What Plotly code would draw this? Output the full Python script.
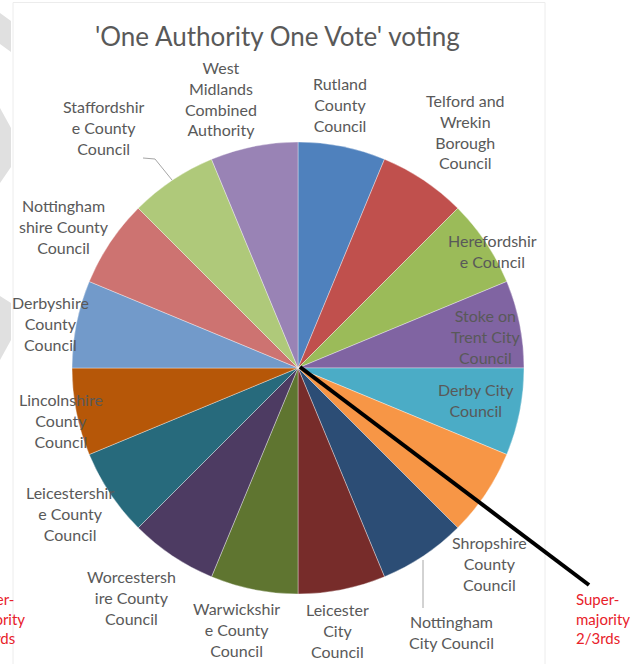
import plotly.graph_objects as go

W, H = 636, 664

councils = [
    "Rutland<br>County<br>Council",
    "Telford and<br>Wrekin<br>Borough<br>Council",
    "Herefordshir<br>e Council",
    "Stoke on<br>Trent City<br>Council",
    "Derby City<br>Council",
    "Shropshire<br>County<br>Council",
    "Nottingham<br>City Council",
    "Leicester<br>City<br>Council",
    "Warwickshir<br>e County<br>Council",
    "Worcestersh<br>ire County<br>Council",
    "Leicestershir<br>e County<br>Council",
    "Lincolnshire<br>County<br>Council",
    "Derbyshire<br>County<br>Council",
    "Nottingham<br>shire County<br>Council",
    "Staffordshir<br>e County<br>Council",
    "West<br>Midlands<br>Combined<br>Authority",
]
votes = [1] * 16
colors = [
    "#4F81BD", "#C0504D", "#9BBB59", "#8064A2", "#4BACC6", "#F79646",
    "#2C4D75", "#772C2A", "#5F7530", "#4D3B62", "#276A7C", "#B65708",
    "#729ACA", "#CD7371", "#AFC97A", "#9983B5",
]
title_text = "'One Authority One Vote' voting"
supermajority_text = "Super-<br>majority<br>2/3rds"

# label centre positions in pixels (layout only)
label_pos = [
    (340, 105), (466, 131), (492, 251), (486, 336), (476, 400), (489, 563),
    (451, 632), (337, 630), (237, 629), (131, 597), (70, 513), (61, 420),
    (50, 323), (64, 226), (104, 128), (221, 99),
]

def px(x):
    return x / W

def py(y):
    return 1 - y / H

# pie centre (298, 368), radius 226
cx, cy, r = 298, 368, 226

fig = go.Figure(go.Pie(
    labels=[c.replace("<br>", " ") for c in councils],
    values=votes,
    marker=dict(colors=colors, line=dict(color="rgba(255,255,255,0.6)", width=0.6)),
    sort=False,
    direction="clockwise",
    rotation=0,
    textinfo="none",
    hoverinfo="label",
    showlegend=False,
    domain=dict(x=[px(cx - r), px(cx + r)], y=[py(cy + r), py(cy - r)]),
))

shapes = []
# background grey stripes on the left edge
stripes = [
    [(0, 13), (11, 21), (11, 52), (0, 44)],
    [(0, 108), (11, 128), (11, 167), (0, 183)],
    [(0, 296), (11, 303), (11, 340), (0, 360)],
]
for pts in stripes:
    path = "M " + " L ".join(f"{px(x)},{py(y)}" for x, y in pts) + " Z"
    shapes.append(dict(type="path", xref="paper", yref="paper", path=path,
                       fillcolor="#e0e0e0", line=dict(width=0), layer="below"))
# chart area border
shapes.append(dict(type="rect", xref="paper", yref="paper",
                   x0=px(13), x1=px(545), y0=py(668), y1=py(2.5),
                   line=dict(color="#ececec", width=1), layer="below"))
# leader lines
shapes.append(dict(type="path", xref="paper", yref="paper",
                   path=f"M {px(143)},{py(158)} L {px(155)},{py(159)} L {px(172)},{py(180)}",
                   line=dict(color="#a6a6a6", width=1)))
shapes.append(dict(type="line", xref="paper", yref="paper",
                   x0=px(423), y0=py(560), x1=px(423), y1=py(608),
                   line=dict(color="#a6a6a6", width=1)))
# super-majority line
shapes.append(dict(type="line", xref="paper", yref="paper",
                   x0=px(300), y0=py(367), x1=px(589), y1=py(585),
                   line=dict(color="black", width=4)))

annotations = []
for txt, (x, y) in zip(councils, label_pos):
    annotations.append(dict(text=txt, x=px(x), y=py(y), xref="paper", yref="paper",
                            xanchor="center", yanchor="middle", align="center",
                            showarrow=False,
                            font=dict(family="Lato", size=16, color="#595959")))
annotations.append(dict(text=title_text, x=px(277), y=py(36), xref="paper", yref="paper",
                        xanchor="center", yanchor="middle", showarrow=False,
                        font=dict(family="Lato", size=26, color="#595959")))
for x in (574, -31):
    annotations.append(dict(text=supermajority_text, x=px(x), y=py(618), xref="paper",
                            yref="paper", xanchor="left", yanchor="middle", align="left",
                            showarrow=False,
                            font=dict(family="Lato", size=15, color="#e8212a")))

fig.update_layout(
    width=W, height=H,
    margin=dict(l=0, r=0, t=0, b=0),
    paper_bgcolor="white",
    plot_bgcolor="white",
    shapes=shapes,
    annotations=annotations,
)

fig.write_html("out.html")
